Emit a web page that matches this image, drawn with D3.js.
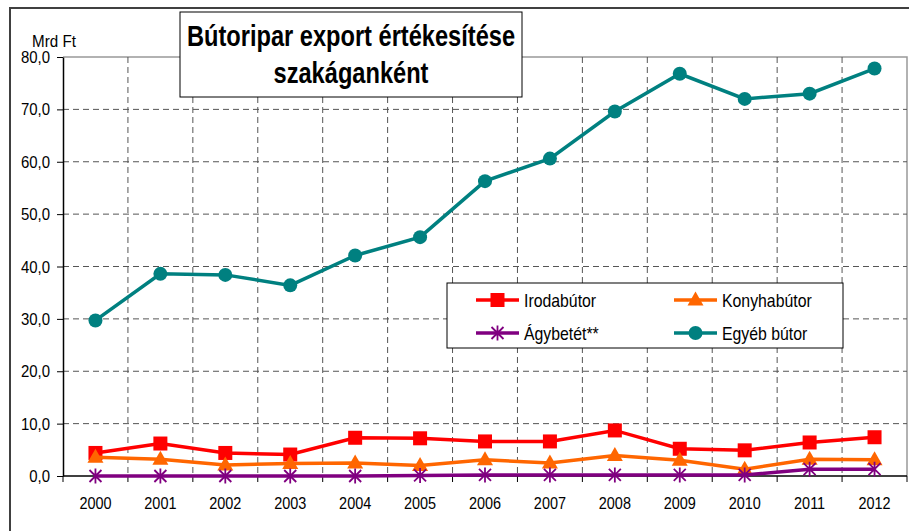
<!DOCTYPE html>
<html>
<head>
<meta charset="utf-8">
<script src="https://cdn.jsdelivr.net/npm/d3@7"></script>
<style>
  body { margin: 0; background: #fff; }
  svg { display: block; font-family: "Liberation Sans", Arial, sans-serif; }
</style>
</head>
<body>
<script>
// values (Mrd Ft)
let years = ["2000","2001","2002","2003","2004","2005","2006","2007","2008","2009","2010","2011","2012"];
let irodabutor  = [4.4, 6.2, 4.4, 4.1, 7.3, 7.2, 6.6, 6.6, 8.7, 5.2, 4.9, 6.4, 7.4];
let konyhabutor = [3.6, 3.2, 2.1, 2.4, 2.5, 2.0, 3.1, 2.5, 3.9, 3.0, 1.3, 3.2, 3.1];
let agybetet    = [0.0, 0.0, 0.0, 0.0, 0.0, 0.1, 0.2, 0.2, 0.2, 0.2, 0.2, 1.3, 1.3];
let egyebbutor  = [29.7, 38.6, 38.4, 36.4, 42.1, 45.6, 56.3, 60.6, 69.6, 76.8, 72.0, 73.0, 77.8];
let yTicks = [0, 10, 20, 30, 40, 50, 60, 70, 80];

let series = [
    {name: "Irodabútor", values: irodabutor, color: "#ff0000", marker: "square"},
    {name: "Konyhabútor", values: konyhabutor, color: "#ff6600", marker: "triangle"},
    {name: "Ágybetét**", values: agybetet, color: "#800080", marker: "star"},
    {name: "Egyéb bútor", values: egyebbutor, color: "#008080", marker: "circle"}
];

let w = 909;
let h = 531;
let pLeft = 63, pRight = 907, pTop = 57, pBottom = 476;

let svg = d3.select("body").append("svg")
    .attr("width", w)
    .attr("height", h);

// the original uses a narrow font, so squeeze the text sideways
let label = function(parent, x, y, str, size, anchor, sx, weight) {
    let g = parent.append("g")
        .attr("transform", "translate(" + x + "," + y + ") scale(" + sx + ",1)");
    return g.append("text")
        .attr("text-anchor", anchor)
        .attr("font-size", size + "px")
        .attr("font-weight", weight || "normal")
        .attr("fill", "#000")
        .text(str);
};

// outer frame
svg.append("rect")
    .attr("x", 10).attr("y", 8)
    .attr("width", 920).attr("height", 560)
    .attr("fill", "none")
    .attr("stroke", "#404040")
    .attr("stroke-width", 2);

let xScale = d3.scaleBand()
    .domain(years)
    .range([pLeft, pRight]);

let yScale = d3.scaleLinear()
    .domain([0, 80])
    .range([pBottom, pTop]);

let fmt = function(d) { return d3.format(".1f")(d).replace(".", ","); };

// plot border (top + right)
svg.append("path")
    .attr("d", "M" + pLeft + "," + pTop + "H" + pRight + "V" + pBottom)
    .attr("fill", "none")
    .attr("stroke", "#999")
    .attr("stroke-width", 1.5);

// horizontal grid
svg.append("g").selectAll("line")
    .data(yTicks.slice(1, -1))
    .enter().append("line")
    .attr("x1", pLeft).attr("x2", pRight)
    .attr("y1", function(d) { return yScale(d); })
    .attr("y2", function(d) { return yScale(d); })
    .attr("stroke", "#555")
    .attr("stroke-dasharray", "6,4");

// vertical grid between categories
svg.append("g").selectAll("line")
    .data(years.slice(1))
    .enter().append("line")
    .attr("x1", function(d) { return xScale(d); })
    .attr("x2", function(d) { return xScale(d); })
    .attr("y1", pTop).attr("y2", pBottom)
    .attr("stroke", "#555")
    .attr("stroke-dasharray", "6,4");

// y axis (ticks from d3, labels drawn narrow)
let yAxis = d3.axisLeft(yScale)
    .tickValues(yTicks)
    .tickFormat("")
    .tickSize(6)
    .tickSizeOuter(0);
let gy = svg.append("g")
    .attr("transform", "translate(" + pLeft + ",0)")
    .call(yAxis);
gy.select(".domain").attr("stroke", "#000").attr("stroke-width", 1.5);
gy.selectAll(".tick line").attr("stroke", "#000");
let yLab = svg.append("g");
yTicks.forEach(function(d) {
    label(yLab, 50, yScale(d) + 6, fmt(d), 17, "end", 0.88);
});

// x axis: ticks at band boundaries
svg.append("line")
    .attr("x1", pLeft).attr("x2", pRight)
    .attr("y1", pBottom).attr("y2", pBottom)
    .attr("stroke", "#000").attr("stroke-width", 1.5);
svg.append("g").selectAll("line")
    .data(years.concat(["end"]))
    .enter().append("line")
    .attr("x1", function(d) { return d == "end" ? pRight : xScale(d); })
    .attr("x2", function(d) { return d == "end" ? pRight : xScale(d); })
    .attr("y1", pBottom).attr("y2", pBottom + 6)
    .attr("stroke", "#000");
let xLab = svg.append("g");
years.forEach(function(d) {
    label(xLab, xScale(d) + xScale.bandwidth() / 2, 509, d, 17, "middle", 0.85);
});

label(svg, 32, 47, "Mrd Ft", 16, "start", 0.95);

// markers
let drawMarker = function(g, type, color) {
    if (type == "square") {
        g.append("rect").attr("x", -7).attr("y", -7).attr("width", 14).attr("height", 14).attr("fill", color);
    } else if (type == "triangle") {
        g.append("path").attr("d", "M0,-8.5L8,5.5L-8,5.5Z").attr("fill", color);
    } else if (type == "circle") {
        g.append("circle").attr("r", 7).attr("fill", color);
    } else {
        g.append("path")
            .attr("d", "M-6,-6L6,6M-6,6L6,-6M0,-7.5V7.5")
            .attr("stroke", color).attr("stroke-width", 1.8).attr("fill", "none");
    }
};

let line = d3.line()
    .x(function(d, i) { return xScale(years[i]) + xScale.bandwidth() / 2; })
    .y(function(d) { return yScale(d); });

// egyéb first, then the low series on top
let order = [3, 0, 1, 2];
order.forEach(function(k) {
    let s = series[k];
    svg.append("path")
        .datum(s.values)
        .attr("d", line)
        .attr("fill", "none")
        .attr("stroke", s.color)
        .attr("stroke-width", 3.5);
    svg.append("g").selectAll("g")
        .data(s.values)
        .enter().append("g")
        .attr("transform", function(d, i) {
            return "translate(" + (xScale(years[i]) + xScale.bandwidth() / 2) + "," + yScale(d) + ")";
        })
        .each(function() { drawMarker(d3.select(this), s.marker, s.color); });
});

// title box
svg.append("rect")
    .attr("x", 180).attr("y", 12)
    .attr("width", 342).attr("height", 85)
    .attr("fill", "#fff")
    .attr("stroke", "#000")
    .attr("stroke-width", 1);
label(svg, 351, 46, "Bútoripar export értékesítése", 29, "middle", 0.815, "bold");
label(svg, 351, 83, "szakáganként", 29, "middle", 0.815, "bold");

// legend
let lg = svg.append("g");
lg.append("rect")
    .attr("x", 447).attr("y", 283)
    .attr("width", 396).attr("height", 65)
    .attr("fill", "#fff")
    .attr("stroke", "#000");
let legendPos = [[476, 300], [674, 300], [476, 333], [674, 333]];
series.forEach(function(s, i) {
    let p = legendPos[i];
    lg.append("line")
        .attr("x1", p[0]).attr("x2", p[0] + 43)
        .attr("y1", p[1]).attr("y2", p[1])
        .attr("stroke", s.color).attr("stroke-width", 3.5);
    let m = lg.append("g").attr("transform", "translate(" + (p[0] + 21.5) + "," + p[1] + ")");
    drawMarker(m, s.marker, s.color);
    label(lg, p[0] + 48, p[1] + 6.5, s.name, 18, "start", 0.88);
});
</script>
</body>
</html>
